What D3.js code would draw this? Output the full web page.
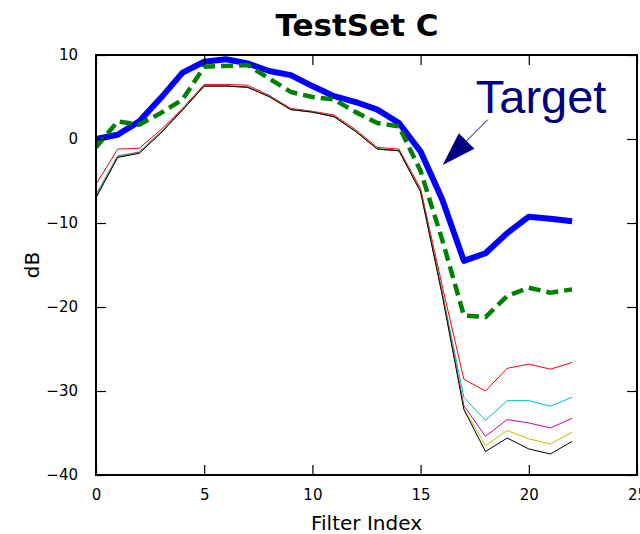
<!DOCTYPE html>
<html>
<head>
<meta charset="utf-8">
<script src="https://cdn.jsdelivr.net/npm/d3@7"></script>
<style>
  html, body { margin: 0; padding: 0; background: #fff; }
  svg { display: block; }
  text { font-family: "DejaVu Sans", sans-serif; }
</style>
</head>
<body>
<svg id="chart" width="640" height="534"></svg>
<script>
// Filter index along the x axis
const filterIndex = [0,1,2,3,4,5,6,7,8,9,10,11,12,13,14,15,16,17,18,19,20,21,22];

// Response of each filter set, in dB
const target = [0.0, 0.5, 2.1, 4.9, 7.9, 9.2, 9.5, 9.0, 8.1, 7.6, 6.3, 5.1, 4.4, 3.5, 1.9, -1.5, -7.2, -14.5, -13.6, -11.2, -9.25, -9.5, -9.8];
const estimate = [-1.0, 2.1, 1.7, 3.1, 4.7, 8.6, 8.7, 8.8, 7.2, 5.6, 5.0, 4.7, 3.2, 1.9, 1.5, -3.8, -12.0, -21.0, -21.2, -18.7, -17.7, -18.3, -17.9];
const seriesR = [-5.4, -1.2, -1.1, 1.1, 3.65, 6.5, 6.5, 6.4, 5.2, 3.65, 3.3, 2.85, 1.1, -1.0, -1.2, -5.9, -17.5, -28.6, -30.0, -27.3, -26.8, -27.4, -26.6];
const seriesC = [-6.6, -2.0, -1.55, 0.85, 3.55, 6.35, 6.35, 6.2, 5.1, 3.55, 3.25, 2.7, 0.95, -1.15, -1.35, -6.2, -18.2, -30.75, -33.5, -31.15, -31.15, -31.8, -30.75];
const seriesM = [-6.8, -2.1, -1.6, 0.8, 3.5, 6.3, 6.3, 6.2, 5.05, 3.5, 3.2, 2.7, 0.9, -1.2, -1.4, -6.25, -18.4, -31.75, -35.4, -33.4, -33.8, -34.4, -33.25];
const seriesY = [-6.9, -2.15, -1.65, 0.75, 3.45, 6.3, 6.3, 6.15, 5.05, 3.5, 3.2, 2.65, 0.9, -1.2, -1.4, -6.3, -18.5, -32.1, -36.5, -34.7, -35.7, -36.3, -34.9];
const seriesK = [-7.0, -2.2, -1.7, 0.7, 3.45, 6.3, 6.3, 6.15, 5.05, 3.5, 3.2, 2.65, 0.9, -1.2, -1.4, -6.3, -18.6, -32.2, -37.2, -35.6, -36.9, -37.5, -36.0];

// Axis ticks
const xTicks = [0, 5, 10, 15, 20, 25];
const yTicks = [-40, -30, -20, -10, 0, 10];

// Annotation: text anchor and arrow tip, in data units
const noteText = "Target";
const noteTextPos = [17.55, 3.1];
const noteTailPos = [18.1, 2.3];
const noteTipPos = [16.02, -3.1];

const svg = d3.select("#chart");
const padL = 96, padR = 637, padT = 55, padB = 475;

const x = d3.scaleLinear().domain([0, 25]).range([padL, padR]);
const y = d3.scaleLinear().domain([-40, 10]).range([padB, padT]);

const fmt = v => (v < 0 ? "\u2212" + Math.abs(v) : String(v));

// Lines
const line = d3.line().x((d, i) => x(filterIndex[i])).y(d => y(d));
const plot = svg.append("g");
const series = [
  { data: target,   color: "#0000ff", width: 6,   dash: null },
  { data: estimate, color: "#008000", width: 4.5, dash: "12,6" },
  { data: seriesR,  color: "#ff0000", width: 1,   dash: null },
  { data: seriesC,  color: "#00bfbf", width: 1,   dash: null },
  { data: seriesM,  color: "#bf00bf", width: 1,   dash: null },
  { data: seriesY,  color: "#bfbf00", width: 1,   dash: null },
  { data: seriesK,  color: "#000000", width: 1,   dash: null }
];
series.forEach(s => {
  plot.append("path")
    .datum(s.data)
    .attr("d", line)
    .attr("fill", "none")
    .attr("stroke", s.color)
    .attr("stroke-width", s.width)
    .attr("stroke-linejoin", "round")
    .attr("stroke-dasharray", s.dash);
});

// Axes with inward ticks on all four sides
const tickLen = 10;
const axB = svg.append("g").attr("transform", `translate(0,${padB})`)
  .call(d3.axisBottom(x).tickValues(xTicks).tickFormat(fmt).tickSizeInner(-tickLen).tickSizeOuter(0).tickPadding(tickLen + 4));
const axT = svg.append("g").attr("transform", `translate(0,${padT})`)
  .call(d3.axisTop(x).tickValues(xTicks).tickFormat("").tickSizeInner(-tickLen).tickSizeOuter(0));
const axL = svg.append("g").attr("transform", `translate(${padL},0)`)
  .call(d3.axisLeft(y).tickValues(yTicks).tickFormat(fmt).tickSizeInner(-tickLen).tickSizeOuter(0).tickPadding(tickLen + 8));
const axR = svg.append("g").attr("transform", `translate(${padR},0)`)
  .call(d3.axisRight(y).tickValues(yTicks).tickFormat("").tickSizeInner(-tickLen).tickSizeOuter(0));

[axB, axT, axL, axR].forEach(g => {
  g.select(".domain").remove();
  g.selectAll(".tick line").attr("stroke", "#000").attr("stroke-width", 1.2);
  g.selectAll(".tick text").attr("fill", "#000").style("font-size", "15px")
    .style("font-family", "'DejaVu Sans', sans-serif");
});

// Frame
svg.append("rect")
  .attr("x", padL).attr("y", padT)
  .attr("width", padR - padL).attr("height", padB - padT)
  .attr("fill", "none").attr("stroke", "#000").attr("stroke-width", 2);

// Titles
svg.append("text")
  .attr("x", 357).attr("y", 36)
  .attr("text-anchor", "middle")
  .style("font-size", "31px").style("font-weight", "bold")
  .text("TestSet C");

svg.append("text")
  .attr("x", (padL + padR) / 2).attr("y", 530)
  .attr("text-anchor", "middle")
  .style("font-size", "20px")
  .text("Filter Index");

svg.append("text")
  .attr("transform", `translate(39,${(padT + padB) / 2}) rotate(-90)`)
  .attr("text-anchor", "middle")
  .style("font-size", "20px")
  .text("dB");

// Annotation arrow and label
const tip = [x(noteTipPos[0]), y(noteTipPos[1])];
const tail = [x(noteTailPos[0]), y(noteTailPos[1])];
const ang = Math.atan2(tail[1] - tip[1], tail[0] - tip[0]);
const headLen = 34, headHalf = 11;
const baseC = [tip[0] + headLen * Math.cos(ang), tip[1] + headLen * Math.sin(ang)];
const nx = -Math.sin(ang), ny = Math.cos(ang);
svg.append("line")
  .attr("x1", tail[0]).attr("y1", tail[1])
  .attr("x2", baseC[0]).attr("y2", baseC[1])
  .attr("stroke", "#000080").attr("stroke-width", 1);
svg.append("path")
  .attr("d", `M${tip[0]},${tip[1]} L${baseC[0] + nx * headHalf},${baseC[1] + ny * headHalf} L${baseC[0] - nx * headHalf},${baseC[1] - ny * headHalf} Z`)
  .attr("fill", "#000080");

svg.append("text")
  .attr("x", x(noteTextPos[0])).attr("y", y(noteTextPos[1]))
  .style("font-family", "'Liberation Sans', Arial, sans-serif")
  .style("font-size", "47px")
  .attr("fill", "#000080")
  .text(noteText);
</script>
</body>
</html>
